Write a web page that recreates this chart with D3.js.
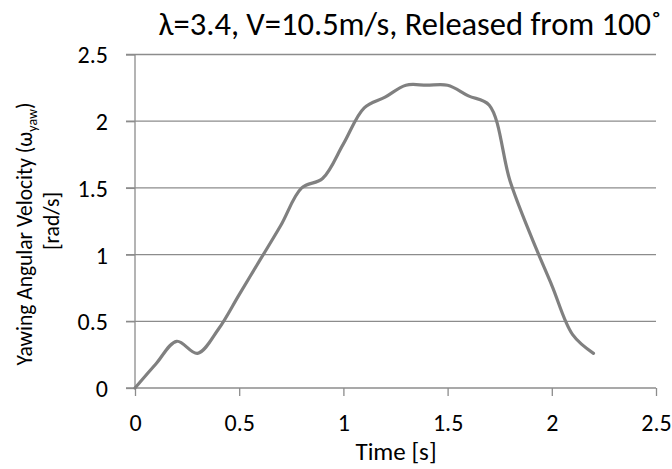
<!DOCTYPE html>
<html>
<head>
<meta charset="utf-8">
<script src="https://cdn.jsdelivr.net/npm/d3@7"></script>
<style>
  body { margin: 0; background: #fff; }
  svg text { font-family: Carlito, Lato, "Open Sans", "Liberation Sans", sans-serif; fill: #000; }
</style>
</head>
<body>
<svg id="chart" width="672" height="469"></svg>
<script>
// Yawing angular velocity sampled every 0.1 s
const times = [0, 0.1, 0.2, 0.3, 0.4, 0.5, 0.6, 0.7, 0.8, 0.9, 1.0, 1.1,
               1.2, 1.3, 1.4, 1.5, 1.6, 1.7, 1.8, 1.9, 2.0, 2.1, 2.2];
const omega = [0, 0.18, 0.35, 0.26, 0.44, 0.70, 0.96, 1.22, 1.50, 1.57, 1.83, 2.10,
               2.18, 2.27, 2.27, 2.27, 2.19, 2.12, 1.55, 1.14, 0.77, 0.40, 0.26];
const xTicks = [0, 0.5, 1, 1.5, 2, 2.5];
const yTicks = [0, 0.5, 1, 1.5, 2, 2.5];
const chartTitle = "λ=3.4, V=10.5m/s, Released from 100˚";

const svg = d3.select("#chart");
const plotLeft = 135, plotRight = 656, plotTop = 54.5, plotBottom = 388;

const x = d3.scaleLinear().domain([0, 2.5]).range([plotLeft, plotRight]);
const y = d3.scaleLinear().domain([0, 2.5]).range([plotBottom, plotTop]);

const gridColor = "#8c8c8c";

// horizontal gridlines (extending left as tick marks)
svg.append("g").selectAll("line").data(yTicks.filter(d => d > 0)).join("line")
  .attr("x1", plotLeft - 9).attr("x2", plotRight)
  .attr("y1", d => y(d)).attr("y2", d => y(d))
  .attr("stroke", gridColor).attr("stroke-width", 1.3);

// y axis
const yAxis = svg.append("g").attr("transform", `translate(${plotLeft},0)`)
  .call(d3.axisLeft(y).tickValues(yTicks).tickFormat(d3.format("")).tickSize(9).tickPadding(18));
// x axis
const xAxis = svg.append("g").attr("transform", `translate(0,${plotBottom})`)
  .call(d3.axisBottom(x).tickValues(xTicks).tickFormat(d3.format("")).tickSize(8));

[yAxis, xAxis].forEach(g => {
  g.select(".domain").attr("stroke", gridColor).attr("stroke-width", 1.3);
  g.selectAll(".tick line").attr("stroke", gridColor).attr("stroke-width", 1.3);
  g.selectAll(".tick text").attr("font-size", 24).attr("fill", "#000");
});
yAxis.selectAll(".tick text").attr("dy", "0.35em");
xAxis.selectAll(".tick text").attr("y", 43).attr("dy", null);
yAxis.select(".domain").attr("d", `M0,${plotTop}V${plotBottom}`);
xAxis.select(".domain").attr("d", `M${plotLeft - 9},0H${plotRight}`);

// data line
const line = d3.line()
  .x((d, i) => x(times[i]))
  .y(d => y(d))
  .curve(d3.curveCatmullRom.alpha(0.5));

svg.append("path")
  .datum(omega)
  .attr("d", line)
  .attr("fill", "none")
  .attr("stroke", "#808080")
  .attr("stroke-width", 3.2)
  .attr("stroke-linejoin", "round")
  .attr("stroke-linecap", "round");

// title
svg.append("text")
  .attr("x", 410).attr("y", 35)
  .attr("text-anchor", "middle")
  .attr("font-size", 32.5)
  .text(chartTitle);

// x axis label
svg.append("text")
  .attr("x", 396).attr("y", 460)
  .attr("text-anchor", "middle")
  .attr("font-size", 25)
  .text("Time [s]");

// y axis label, two lines
const yl = svg.append("text")
  .attr("transform", "translate(32,234) rotate(-90)")
  .attr("text-anchor", "middle")
  .attr("font-size", 21.5);
yl.append("tspan").text("Yawing Angular Velocity (ω");
yl.append("tspan").attr("font-size", 14).attr("dy", 5).text("yaw");
yl.append("tspan").attr("dy", -5).text(")");

svg.append("text")
  .attr("transform", "translate(59,221) rotate(-90)")
  .attr("text-anchor", "middle")
  .attr("font-size", 21.5)
  .text("[rad/s]");
</script>
</body>
</html>
